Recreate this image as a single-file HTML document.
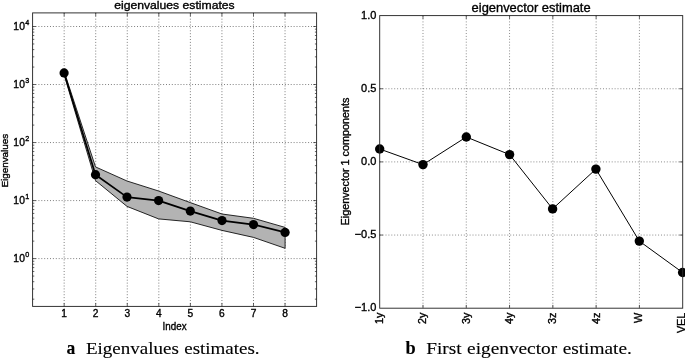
<!DOCTYPE html>
<html lang="en"><head><meta charset="utf-8"><title>Eigenvalue and eigenvector estimates</title>
<style>html,body{margin:0;padding:0;background:#fff;}body{width:685px;height:359px;overflow:hidden;}svg{display:block;will-change:transform;}.s{font-family:"Liberation Sans",Arial,Helvetica,sans-serif;fill:#000;stroke:#000;stroke-width:.35;}.c{font-family:"Liberation Serif","Times New Roman",serif;fill:#000;stroke:#000;stroke-width:.12;}.g{stroke:#000;stroke-width:.9;stroke-dasharray:1 1.9;fill:none;stroke-opacity:.56}#right-chart .g{stroke-opacity:.5}.ax{stroke:#2a2a2a;stroke-width:.95;fill:none;}.tk{stroke:#222;stroke-width:.7;fill:none;}</style></head><body>
<svg width="685" height="359" viewBox="0 0 685 359">
<rect x="0" y="0" width="685" height="359" fill="#fff"/>
<g id="left-chart">
<line class="g" x1="64.16" y1="12.9" x2="64.16" y2="306.4"/>
<line class="g" x1="95.71" y1="12.9" x2="95.71" y2="306.4"/>
<line class="g" x1="127.27" y1="12.9" x2="127.27" y2="306.4"/>
<line class="g" x1="158.82" y1="12.9" x2="158.82" y2="306.4"/>
<line class="g" x1="190.38" y1="12.9" x2="190.38" y2="306.4"/>
<line class="g" x1="221.93" y1="12.9" x2="221.93" y2="306.4"/>
<line class="g" x1="253.49" y1="12.9" x2="253.49" y2="306.4"/>
<line class="g" x1="285.04" y1="12.9" x2="285.04" y2="306.4"/>
<line class="g" x1="32.6" y1="258.60" x2="316.6" y2="258.60"/>
<line class="g" x1="32.6" y1="200.58" x2="316.6" y2="200.58"/>
<line class="g" x1="32.6" y1="142.55" x2="316.6" y2="142.55"/>
<line class="g" x1="32.6" y1="84.53" x2="316.6" y2="84.53"/>
<line class="g" x1="32.6" y1="26.50" x2="316.6" y2="26.50"/>
<polygon points="64.1,71.4 95.5,166.9 127.0,181.0 158.6,191.0 190.3,202.6 222.0,214.0 253.5,218.3 285.1,227.4 285.1,248.3 253.5,237.4 222.0,230.4 190.3,221.8 158.6,218.9 127.0,206.4 95.5,180.6 64.1,74.6" fill="#b3b3b3" stroke="#111" stroke-width="0.9" stroke-linejoin="miter"/>
<polyline points="64.1,72.9 95.5,174.7 127.0,197.1 158.6,200.6 190.3,211.1 222.0,220.6 253.5,224.6 285.1,232.4" fill="none" stroke="#000" stroke-width="1.7" stroke-linejoin="round"/>
<circle cx="64.1" cy="72.9" r="4.6" fill="#000"/>
<circle cx="95.5" cy="174.7" r="4.6" fill="#000"/>
<circle cx="127.0" cy="197.1" r="4.6" fill="#000"/>
<circle cx="158.6" cy="200.6" r="4.6" fill="#000"/>
<circle cx="190.3" cy="211.1" r="4.6" fill="#000"/>
<circle cx="222.0" cy="220.6" r="4.6" fill="#000"/>
<circle cx="253.5" cy="224.6" r="4.6" fill="#000"/>
<circle cx="285.1" cy="232.4" r="4.6" fill="#000"/>
<rect class="ax" x="32.6" y="12.9" width="284.00" height="293.50"/>
<line class="tk" x1="64.16" y1="306.4" x2="64.16" y2="303.09999999999997"/>
<line class="tk" x1="64.16" y1="12.9" x2="64.16" y2="16.2"/>
<line class="tk" x1="95.71" y1="306.4" x2="95.71" y2="303.09999999999997"/>
<line class="tk" x1="95.71" y1="12.9" x2="95.71" y2="16.2"/>
<line class="tk" x1="127.27" y1="306.4" x2="127.27" y2="303.09999999999997"/>
<line class="tk" x1="127.27" y1="12.9" x2="127.27" y2="16.2"/>
<line class="tk" x1="158.82" y1="306.4" x2="158.82" y2="303.09999999999997"/>
<line class="tk" x1="158.82" y1="12.9" x2="158.82" y2="16.2"/>
<line class="tk" x1="190.38" y1="306.4" x2="190.38" y2="303.09999999999997"/>
<line class="tk" x1="190.38" y1="12.9" x2="190.38" y2="16.2"/>
<line class="tk" x1="221.93" y1="306.4" x2="221.93" y2="303.09999999999997"/>
<line class="tk" x1="221.93" y1="12.9" x2="221.93" y2="16.2"/>
<line class="tk" x1="253.49" y1="306.4" x2="253.49" y2="303.09999999999997"/>
<line class="tk" x1="253.49" y1="12.9" x2="253.49" y2="16.2"/>
<line class="tk" x1="285.04" y1="306.4" x2="285.04" y2="303.09999999999997"/>
<line class="tk" x1="285.04" y1="12.9" x2="285.04" y2="16.2"/>
<line class="tk" x1="32.6" y1="299.16" x2="34.300000000000004" y2="299.16"/>
<line class="tk" x1="316.6" y1="299.16" x2="314.90000000000003" y2="299.16"/>
<line class="tk" x1="32.6" y1="288.94" x2="34.300000000000004" y2="288.94"/>
<line class="tk" x1="316.6" y1="288.94" x2="314.90000000000003" y2="288.94"/>
<line class="tk" x1="32.6" y1="281.69" x2="34.300000000000004" y2="281.69"/>
<line class="tk" x1="316.6" y1="281.69" x2="314.90000000000003" y2="281.69"/>
<line class="tk" x1="32.6" y1="276.07" x2="34.300000000000004" y2="276.07"/>
<line class="tk" x1="316.6" y1="276.07" x2="314.90000000000003" y2="276.07"/>
<line class="tk" x1="32.6" y1="271.47" x2="34.300000000000004" y2="271.47"/>
<line class="tk" x1="316.6" y1="271.47" x2="314.90000000000003" y2="271.47"/>
<line class="tk" x1="32.6" y1="267.59" x2="34.300000000000004" y2="267.59"/>
<line class="tk" x1="316.6" y1="267.59" x2="314.90000000000003" y2="267.59"/>
<line class="tk" x1="32.6" y1="264.22" x2="34.300000000000004" y2="264.22"/>
<line class="tk" x1="316.6" y1="264.22" x2="314.90000000000003" y2="264.22"/>
<line class="tk" x1="32.6" y1="261.26" x2="34.300000000000004" y2="261.26"/>
<line class="tk" x1="316.6" y1="261.26" x2="314.90000000000003" y2="261.26"/>
<line class="tk" x1="32.6" y1="258.60" x2="35.9" y2="258.60"/>
<line class="tk" x1="316.6" y1="258.60" x2="313.3" y2="258.60"/>
<line class="tk" x1="32.6" y1="241.13" x2="34.300000000000004" y2="241.13"/>
<line class="tk" x1="316.6" y1="241.13" x2="314.90000000000003" y2="241.13"/>
<line class="tk" x1="32.6" y1="230.92" x2="34.300000000000004" y2="230.92"/>
<line class="tk" x1="316.6" y1="230.92" x2="314.90000000000003" y2="230.92"/>
<line class="tk" x1="32.6" y1="223.67" x2="34.300000000000004" y2="223.67"/>
<line class="tk" x1="316.6" y1="223.67" x2="314.90000000000003" y2="223.67"/>
<line class="tk" x1="32.6" y1="218.04" x2="34.300000000000004" y2="218.04"/>
<line class="tk" x1="316.6" y1="218.04" x2="314.90000000000003" y2="218.04"/>
<line class="tk" x1="32.6" y1="213.45" x2="34.300000000000004" y2="213.45"/>
<line class="tk" x1="316.6" y1="213.45" x2="314.90000000000003" y2="213.45"/>
<line class="tk" x1="32.6" y1="209.56" x2="34.300000000000004" y2="209.56"/>
<line class="tk" x1="316.6" y1="209.56" x2="314.90000000000003" y2="209.56"/>
<line class="tk" x1="32.6" y1="206.20" x2="34.300000000000004" y2="206.20"/>
<line class="tk" x1="316.6" y1="206.20" x2="314.90000000000003" y2="206.20"/>
<line class="tk" x1="32.6" y1="203.23" x2="34.300000000000004" y2="203.23"/>
<line class="tk" x1="316.6" y1="203.23" x2="314.90000000000003" y2="203.23"/>
<line class="tk" x1="32.6" y1="200.58" x2="35.9" y2="200.58"/>
<line class="tk" x1="316.6" y1="200.58" x2="313.3" y2="200.58"/>
<line class="tk" x1="32.6" y1="183.11" x2="34.300000000000004" y2="183.11"/>
<line class="tk" x1="316.6" y1="183.11" x2="314.90000000000003" y2="183.11"/>
<line class="tk" x1="32.6" y1="172.89" x2="34.300000000000004" y2="172.89"/>
<line class="tk" x1="316.6" y1="172.89" x2="314.90000000000003" y2="172.89"/>
<line class="tk" x1="32.6" y1="165.64" x2="34.300000000000004" y2="165.64"/>
<line class="tk" x1="316.6" y1="165.64" x2="314.90000000000003" y2="165.64"/>
<line class="tk" x1="32.6" y1="160.02" x2="34.300000000000004" y2="160.02"/>
<line class="tk" x1="316.6" y1="160.02" x2="314.90000000000003" y2="160.02"/>
<line class="tk" x1="32.6" y1="155.42" x2="34.300000000000004" y2="155.42"/>
<line class="tk" x1="316.6" y1="155.42" x2="314.90000000000003" y2="155.42"/>
<line class="tk" x1="32.6" y1="151.54" x2="34.300000000000004" y2="151.54"/>
<line class="tk" x1="316.6" y1="151.54" x2="314.90000000000003" y2="151.54"/>
<line class="tk" x1="32.6" y1="148.17" x2="34.300000000000004" y2="148.17"/>
<line class="tk" x1="316.6" y1="148.17" x2="314.90000000000003" y2="148.17"/>
<line class="tk" x1="32.6" y1="145.21" x2="34.300000000000004" y2="145.21"/>
<line class="tk" x1="316.6" y1="145.21" x2="314.90000000000003" y2="145.21"/>
<line class="tk" x1="32.6" y1="142.55" x2="35.9" y2="142.55"/>
<line class="tk" x1="316.6" y1="142.55" x2="313.3" y2="142.55"/>
<line class="tk" x1="32.6" y1="125.08" x2="34.300000000000004" y2="125.08"/>
<line class="tk" x1="316.6" y1="125.08" x2="314.90000000000003" y2="125.08"/>
<line class="tk" x1="32.6" y1="114.87" x2="34.300000000000004" y2="114.87"/>
<line class="tk" x1="316.6" y1="114.87" x2="314.90000000000003" y2="114.87"/>
<line class="tk" x1="32.6" y1="107.62" x2="34.300000000000004" y2="107.62"/>
<line class="tk" x1="316.6" y1="107.62" x2="314.90000000000003" y2="107.62"/>
<line class="tk" x1="32.6" y1="101.99" x2="34.300000000000004" y2="101.99"/>
<line class="tk" x1="316.6" y1="101.99" x2="314.90000000000003" y2="101.99"/>
<line class="tk" x1="32.6" y1="97.40" x2="34.300000000000004" y2="97.40"/>
<line class="tk" x1="316.6" y1="97.40" x2="314.90000000000003" y2="97.40"/>
<line class="tk" x1="32.6" y1="93.51" x2="34.300000000000004" y2="93.51"/>
<line class="tk" x1="316.6" y1="93.51" x2="314.90000000000003" y2="93.51"/>
<line class="tk" x1="32.6" y1="90.15" x2="34.300000000000004" y2="90.15"/>
<line class="tk" x1="316.6" y1="90.15" x2="314.90000000000003" y2="90.15"/>
<line class="tk" x1="32.6" y1="87.18" x2="34.300000000000004" y2="87.18"/>
<line class="tk" x1="316.6" y1="87.18" x2="314.90000000000003" y2="87.18"/>
<line class="tk" x1="32.6" y1="84.53" x2="35.9" y2="84.53"/>
<line class="tk" x1="316.6" y1="84.53" x2="313.3" y2="84.53"/>
<line class="tk" x1="32.6" y1="67.06" x2="34.300000000000004" y2="67.06"/>
<line class="tk" x1="316.6" y1="67.06" x2="314.90000000000003" y2="67.06"/>
<line class="tk" x1="32.6" y1="56.84" x2="34.300000000000004" y2="56.84"/>
<line class="tk" x1="316.6" y1="56.84" x2="314.90000000000003" y2="56.84"/>
<line class="tk" x1="32.6" y1="49.59" x2="34.300000000000004" y2="49.59"/>
<line class="tk" x1="316.6" y1="49.59" x2="314.90000000000003" y2="49.59"/>
<line class="tk" x1="32.6" y1="43.97" x2="34.300000000000004" y2="43.97"/>
<line class="tk" x1="316.6" y1="43.97" x2="314.90000000000003" y2="43.97"/>
<line class="tk" x1="32.6" y1="39.37" x2="34.300000000000004" y2="39.37"/>
<line class="tk" x1="316.6" y1="39.37" x2="314.90000000000003" y2="39.37"/>
<line class="tk" x1="32.6" y1="35.49" x2="34.300000000000004" y2="35.49"/>
<line class="tk" x1="316.6" y1="35.49" x2="314.90000000000003" y2="35.49"/>
<line class="tk" x1="32.6" y1="32.12" x2="34.300000000000004" y2="32.12"/>
<line class="tk" x1="316.6" y1="32.12" x2="314.90000000000003" y2="32.12"/>
<line class="tk" x1="32.6" y1="29.16" x2="34.300000000000004" y2="29.16"/>
<line class="tk" x1="316.6" y1="29.16" x2="314.90000000000003" y2="29.16"/>
<line class="tk" x1="32.6" y1="26.50" x2="35.9" y2="26.50"/>
<line class="tk" x1="316.6" y1="26.50" x2="313.3" y2="26.50"/>
<text class="s" x="64.16" y="317.4" font-size="10.2" text-anchor="middle">1</text>
<text class="s" x="95.71" y="317.4" font-size="10.2" text-anchor="middle">2</text>
<text class="s" x="127.27" y="317.4" font-size="10.2" text-anchor="middle">3</text>
<text class="s" x="158.82" y="317.4" font-size="10.2" text-anchor="middle">4</text>
<text class="s" x="190.38" y="317.4" font-size="10.2" text-anchor="middle">5</text>
<text class="s" x="221.93" y="317.4" font-size="10.2" text-anchor="middle">6</text>
<text class="s" x="253.49" y="317.4" font-size="10.2" text-anchor="middle">7</text>
<text class="s" x="285.04" y="317.4" font-size="10.2" text-anchor="middle">8</text>
<text class="s" x="29.5" y="262.20" font-size="10.3" text-anchor="end" letter-spacing=".25">10<tspan font-size="7.2" dy="-4.9">0</tspan></text>
<text class="s" x="29.5" y="204.18" font-size="10.3" text-anchor="end" letter-spacing=".25">10<tspan font-size="7.2" dy="-4.9">1</tspan></text>
<text class="s" x="29.5" y="146.15" font-size="10.3" text-anchor="end" letter-spacing=".25">10<tspan font-size="7.2" dy="-4.9">2</tspan></text>
<text class="s" x="29.5" y="88.12" font-size="10.3" text-anchor="end" letter-spacing=".25">10<tspan font-size="7.2" dy="-4.9">3</tspan></text>
<text class="s" x="29.5" y="30.10" font-size="10.3" text-anchor="end" letter-spacing=".25">10<tspan font-size="7.2" dy="-4.9">4</tspan></text>
<text class="s" x="162.6" y="330.1" font-size="10.4" textLength="24" lengthAdjust="spacingAndGlyphs">Index</text>
<text class="s" transform="translate(8.1 160.7) rotate(-90)" font-size="9.9" text-anchor="middle">Eigenvalues</text>
<text class="s" x="114.2" y="9.3" font-size="11.5" textLength="120.5" lengthAdjust="spacingAndGlyphs">eigenvalues estimates</text>
</g>
<g id="right-chart">
<line class="g" x1="422.99" y1="15.6" x2="422.99" y2="308.2"/>
<line class="g" x1="466.27" y1="15.6" x2="466.27" y2="308.2"/>
<line class="g" x1="509.56" y1="15.6" x2="509.56" y2="308.2"/>
<line class="g" x1="552.84" y1="15.6" x2="552.84" y2="308.2"/>
<line class="g" x1="596.13" y1="15.6" x2="596.13" y2="308.2"/>
<line class="g" x1="639.41" y1="15.6" x2="639.41" y2="308.2"/>
<line class="g" x1="379.7" y1="88.75" x2="682.7" y2="88.75"/>
<line class="g" x1="379.7" y1="161.90" x2="682.7" y2="161.90"/>
<line class="g" x1="379.7" y1="235.05" x2="682.7" y2="235.05"/>
<polyline points="379.7,149.0 423.0,164.6 466.3,137.0 509.6,154.6 552.6,208.9 595.9,169.1 639.3,241.1 682.6,272.5" fill="none" stroke="#000" stroke-width="1" stroke-linejoin="round"/>
<circle cx="379.7" cy="149.0" r="4.7" fill="#000"/>
<circle cx="423.0" cy="164.6" r="4.7" fill="#000"/>
<circle cx="466.3" cy="137.0" r="4.7" fill="#000"/>
<circle cx="509.6" cy="154.6" r="4.7" fill="#000"/>
<circle cx="552.6" cy="208.9" r="4.7" fill="#000"/>
<circle cx="595.9" cy="169.1" r="4.7" fill="#000"/>
<circle cx="639.3" cy="241.1" r="4.7" fill="#000"/>
<circle cx="682.6" cy="272.5" r="4.7" fill="#000"/>
<rect class="ax" x="379.7" y="15.6" width="303.00" height="292.60"/>
<line class="tk" x1="422.99" y1="308.2" x2="422.99" y2="304.9"/>
<line class="tk" x1="422.99" y1="15.6" x2="422.99" y2="18.9"/>
<line class="tk" x1="466.27" y1="308.2" x2="466.27" y2="304.9"/>
<line class="tk" x1="466.27" y1="15.6" x2="466.27" y2="18.9"/>
<line class="tk" x1="509.56" y1="308.2" x2="509.56" y2="304.9"/>
<line class="tk" x1="509.56" y1="15.6" x2="509.56" y2="18.9"/>
<line class="tk" x1="552.84" y1="308.2" x2="552.84" y2="304.9"/>
<line class="tk" x1="552.84" y1="15.6" x2="552.84" y2="18.9"/>
<line class="tk" x1="596.13" y1="308.2" x2="596.13" y2="304.9"/>
<line class="tk" x1="596.13" y1="15.6" x2="596.13" y2="18.9"/>
<line class="tk" x1="639.41" y1="308.2" x2="639.41" y2="304.9"/>
<line class="tk" x1="639.41" y1="15.6" x2="639.41" y2="18.9"/>
<line class="tk" x1="379.7" y1="88.75" x2="383.0" y2="88.75"/>
<line class="tk" x1="682.7" y1="88.75" x2="679.4000000000001" y2="88.75"/>
<line class="tk" x1="379.7" y1="161.90" x2="383.0" y2="161.90"/>
<line class="tk" x1="682.7" y1="161.90" x2="679.4000000000001" y2="161.90"/>
<line class="tk" x1="379.7" y1="235.05" x2="383.0" y2="235.05"/>
<line class="tk" x1="682.7" y1="235.05" x2="679.4000000000001" y2="235.05"/>
<text class="s" x="376.4" y="18.80" font-size="11" text-anchor="end">1.0</text>
<text class="s" x="376.4" y="91.95" font-size="11" text-anchor="end">0.5</text>
<text class="s" x="376.4" y="165.10" font-size="11" text-anchor="end">0.0</text>
<text class="s" x="376.4" y="238.25" font-size="11" text-anchor="end">−0.5</text>
<text class="s" x="376.4" y="311.40" font-size="11" text-anchor="end">−1.0</text>
<text class="s" transform="translate(383.10 312.7) rotate(-90)" font-size="10.8" text-anchor="end">1y</text>
<text class="s" transform="translate(426.29 312.7) rotate(-90)" font-size="10.8" text-anchor="end">2y</text>
<text class="s" transform="translate(469.57 312.7) rotate(-90)" font-size="10.8" text-anchor="end">3y</text>
<text class="s" transform="translate(512.86 312.7) rotate(-90)" font-size="10.8" text-anchor="end">4y</text>
<text class="s" transform="translate(556.34 312.7) rotate(-90)" font-size="10.8" text-anchor="end">3z</text>
<text class="s" transform="translate(599.53 312.7) rotate(-90)" font-size="10.8" text-anchor="end">4z</text>
<text class="s" transform="translate(642.01 312.7) rotate(-90)" font-size="10.8" text-anchor="end">W</text>
<text class="s" transform="translate(684.90 312.7) rotate(-90)" font-size="10.8" text-anchor="end">VEL</text>
<text class="s" transform="translate(349.2 161.5) rotate(-90)" font-size="10.8" text-anchor="middle">Eigenvector 1 components</text>
<text class="s" x="531.1" y="11.6" font-size="12.9" text-anchor="middle">eigenvector estimate</text>
</g>
<g id="captions">
<text class="c" x="66.4" y="354.1" font-size="19" font-weight="bold" textLength="8.8" lengthAdjust="spacingAndGlyphs">a</text>
<text class="c" x="86.0" y="354.1" font-size="16.8" word-spacing="0.6" textLength="173.6" lengthAdjust="spacingAndGlyphs">Eigenvalues estimates.</text>
<text class="c" x="405.4" y="353.9" font-size="19" font-weight="bold" textLength="10.2" lengthAdjust="spacingAndGlyphs">b</text>
<text class="c" x="426.2" y="353.9" font-size="16.8" word-spacing="0.6" textLength="205.6" lengthAdjust="spacingAndGlyphs">First eigenvector estimate.</text>
</g>
</svg></body></html>
